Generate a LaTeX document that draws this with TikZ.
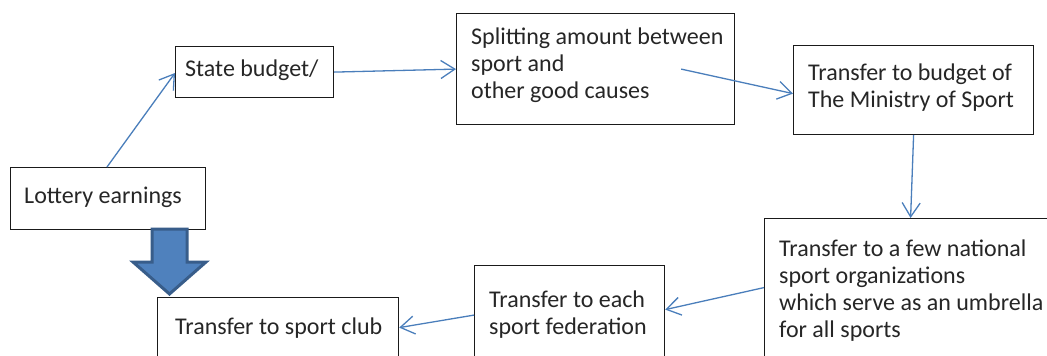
\documentclass[tikz,border=0pt]{standalone}
\usepackage{fontspec}
\setmainfont{Carlito}
\usetikzlibrary{arrows.meta,calc}
\definecolor{arr}{HTML}{4A7EBB}
\definecolor{bigfill}{HTML}{4F81BD}
\definecolor{bigline}{HTML}{385D8A}
\definecolor{txt}{HTML}{262626}
\definecolor{boxline}{HTML}{1A1A1A}
\begin{document}
\begin{tikzpicture}[x=1pt,y=-1pt,
  box/.style={draw=boxline, line width=1.2pt, inner sep=0pt, anchor=north west, fill=white},
  lbl/.style={text=txt, inner sep=0pt, anchor=base west, align=left, font=\fontsize{24pt}{27pt}\selectfont},
  conn/.style={draw=arr, line width=1.3pt, -{Straight Barb[length=14pt,width=18pt,line width=1.3pt]}},
  bigarrow/.style={fill=bigfill, draw=bigline, line width=3pt, line join=miter}]
\useasboundingbox (0,0) rectangle (1047,356);
\clip (0,0) rectangle (1047,356);
% boxes
\node[box, minimum width=195pt, minimum height=62pt] (lot) at (10,167) {};
\node[box, minimum width=158pt, minimum height=51pt] (state) at (175,46) {};
\node[box, minimum width=278pt, minimum height=111pt] (split) at (456,13) {};
\node[box, minimum width=240pt, minimum height=89pt] (min) at (793,45) {};
\node[box, minimum width=292pt, minimum height=138pt] (nat) at (764,218) {};
\node[box, minimum width=190pt, minimum height=99pt] (fed) at (474,265) {};
\node[box, minimum width=241pt, minimum height=62pt] (club) at (157,297) {};
% texts (anchor = baseline of the last line)
\node[lbl] (tlot) at (24,203) {Lottery earnings};
\node[lbl] (tstate) at (185,76) {State budget/};
\node[lbl] (tsplit) at (471,98) {Splitting amount between\\sport and\\other good causes};
\node[lbl] (tmin) at (808,107) {Transfer to budget of\\The Ministry of Sport};
\node[lbl] (tnat) at (779,337) {Transfer to a few national\\sport organizations\\which serve as an umbrella\\for all sports};
\node[lbl] (tfed) at (489,334) {Transfer to each\\sport federation};
\node[lbl] (tclub) at (175,334) {Transfer to sport club};
% connectors
\draw[conn] ([xshift=97pt]lot.north west) -- ([yshift=-27pt]state.north west);
\draw[conn] (state.east) -- (split.west);
\draw[conn] ([xshift=-54pt]split.east) -- ([yshift=-3.5pt]min.west);
\draw[conn] (min.south) -- (nat.north);
\draw[conn] (nat.west) -- ([yshift=5.5pt]fed.east);
\draw[conn] (fed.west) -- ([yshift=1pt]club.east);
% big block arrow
\draw[bigarrow] (152,229) -- (187,229) -- (187,262) -- (206,262) -- (169.5,294) -- (133,262) -- (152,262) -- cycle;
\end{tikzpicture}
\end{document}
